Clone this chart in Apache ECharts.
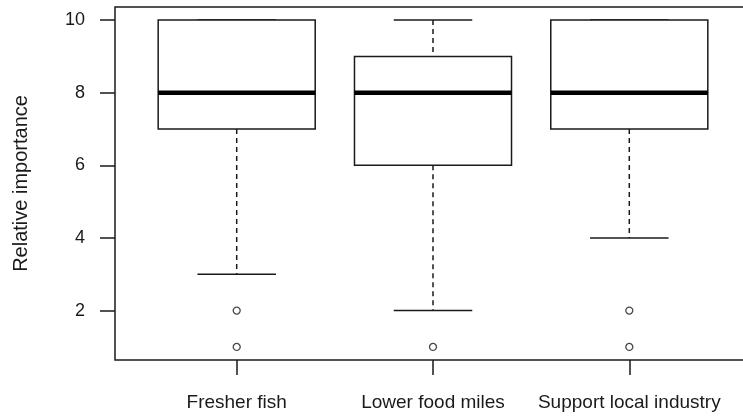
<!DOCTYPE html>
<html>
<head>
<meta charset="utf-8">
<script src="https://cdn.jsdelivr.net/npm/echarts@6/dist/echarts.min.js"></script>
<style>
  html, body { margin: 0; padding: 0; background: #fff; }
  #chart { width: 743px; height: 419px; }
</style>
</head>
<body>
<div id="chart"></div>
<script>
// categories and box statistics
var categories = ['Fresher fish', 'Lower food miles', 'Support local industry'];
var whiskerLow = [3, 2, 4];
var lowerQuartile = [7, 6, 7];
var medians = [8, 8, 8];
var upperQuartile = [10, 9, 10];
var whiskerHigh = [10, 10, 10];
// outliers as [category position, value]
var outliers = [[1, 2], [1, 1], [2, 1], [3, 2], [3, 1]];
var yTicks = [2, 4, 6, 8, 10];

var boxData = categories.map(function (c, i) {
  return [i + 1, whiskerLow[i], lowerQuartile[i], medians[i], upperQuartile[i], whiskerHigh[i]];
});

var font = '"Liberation Sans", Arial, sans-serif';
var ink = '#1a1a1a';

function renderBox(params, api) {
  var x = api.value(0);
  var lo = api.coord([x, api.value(1)]);
  var q1 = api.coord([x, api.value(2)]);
  var md = api.coord([x, api.value(3)]);
  var q3 = api.coord([x, api.value(4)]);
  var hi = api.coord([x, api.value(5)]);
  var bw = api.size([0.8, 0])[0];
  var cw = bw / 2;
  var cx = q1[0];
  var solid = { stroke: ink, lineWidth: 1.5, fill: null };
  var dashed = { stroke: ink, lineWidth: 1.5, lineDash: [5, 4], fill: null };
  var kids = [];
  if (hi[1] < q3[1]) {
    kids.push({ type: 'line', shape: { x1: cx, y1: hi[1], x2: cx, y2: q3[1] }, style: dashed });
  }
  if (lo[1] > q1[1]) {
    kids.push({ type: 'line', shape: { x1: cx, y1: q1[1], x2: cx, y2: lo[1] }, style: dashed });
  }
  kids.push({ type: 'line', shape: { x1: cx - cw / 2, y1: hi[1], x2: cx + cw / 2, y2: hi[1] }, style: solid });
  kids.push({ type: 'line', shape: { x1: cx - cw / 2, y1: lo[1], x2: cx + cw / 2, y2: lo[1] }, style: solid });
  kids.push({ type: 'rect', shape: { x: cx - bw / 2, y: q3[1], width: bw, height: q1[1] - q3[1] },
    style: { stroke: ink, lineWidth: 1.5, fill: '#fff' } });
  kids.push({ type: 'line', shape: { x1: cx - bw / 2, y1: md[1], x2: cx + bw / 2, y2: md[1] },
    style: { stroke: '#000', lineWidth: 4.5 } });
  return { type: 'group', children: kids };
}

var chart = echarts.init(document.getElementById('chart'));
chart.setOption({
  animation: false,
  backgroundColor: '#fff',
  grid: {
    left: 115, top: 7, width: 636, bottom: 59,
    outerBoundsMode: 'none',
    containLabel: false,
    show: true, borderColor: ink, borderWidth: 1.5
  },
  xAxis: {
    type: 'value',
    min: 0.38, max: 3.62,
    splitLine: { show: false },
    axisLine: { show: false },
    axisTick: { show: true, length: 15, customValues: [1, 2, 3], lineStyle: { color: ink, width: 1.5 } },
    axisLabel: {
      customValues: [1, 2, 3],
      margin: 33,
      fontFamily: font, fontSize: 19, color: ink,
      formatter: function (v) { return categories[Math.round(v) - 1]; }
    }
  },
  yAxis: {
    type: 'value',
    min: 0.64, max: 10.36,
    name: 'Relative importance',
    nameLocation: 'middle',
    nameRotate: 90,
    nameGap: 84,
    nameTextStyle: { fontFamily: font, fontSize: 20, color: ink },
    splitLine: { show: false },
    axisLine: { show: false },
    axisTick: { show: true, length: 15, customValues: yTicks, lineStyle: { color: ink, width: 1.5 } },
    axisLabel: { customValues: yTicks, margin: 30, fontFamily: font, fontSize: 18, color: ink }
  },
  series: [
    {
      type: 'custom',
      renderItem: renderBox,
      encode: { x: 0, y: [1, 2, 3, 4, 5] },
      data: boxData
    },
    {
      type: 'scatter',
      symbol: 'circle',
      symbolSize: 7,
      itemStyle: { color: '#fff', borderColor: ink, borderWidth: 1.3 },
      data: outliers
    }
  ]
});
</script>
</body>
</html>
